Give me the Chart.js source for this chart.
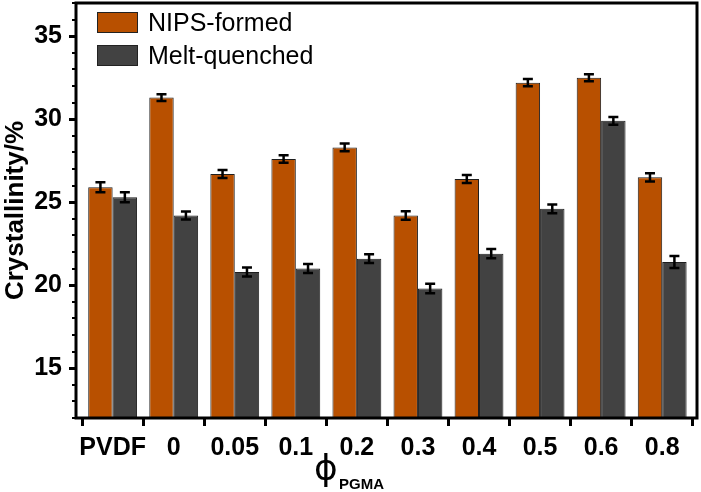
<!DOCTYPE html>
<html>
<head>
<meta charset="utf-8">
<script src="https://cdn.jsdelivr.net/npm/chart.js@4.4.1/dist/chart.umd.min.js"></script>
<style>
html, body { margin: 0; padding: 0; background: #fff; }
#wrap { width: 701px; height: 492px; }
</style>
</head>
<body>
<div id="wrap"><canvas id="crystChart" width="701" height="492"></canvas></div>
<script>
const categories = ['PVDF', '0', '0.05', '0.1', '0.2', '0.3', '0.4', '0.5', '0.6', '0.8'];
const nipsValues = [25.9, 31.3, 26.7, 27.6, 28.3, 24.2, 26.4, 32.2, 32.5, 26.5];
const nipsErrors = [0.3, 0.2, 0.24, 0.23, 0.23, 0.26, 0.24, 0.22, 0.21, 0.25];
const meltValues = [25.3, 24.2, 20.8, 21.0, 21.6, 19.8, 21.9, 24.6, 29.9, 21.4];
const meltErrors = [0.3, 0.24, 0.27, 0.27, 0.27, 0.28, 0.28, 0.26, 0.23, 0.36];
const yTicks = [15, 20, 25, 30, 35];

const FONT = '"Liberation Sans", Arial, sans-serif';

// error bars drawn on top of each bar
const errorBars = {
    id: 'errorBars',
    afterDatasetsDraw(chart) {
        const ctx = chart.ctx;
        const yScale = chart.scales.y;
        ctx.save();
        ctx.strokeStyle = '#000';
        ctx.lineWidth = 2.5;
        chart.data.datasets.forEach((ds, i) => {
            const meta = chart.getDatasetMeta(i);
            meta.data.forEach((bar, j) => {
                const v = ds.data[j].y;
                const e = ds.errors[j];
                const top = yScale.getPixelForValue(v + e);
                const bot = yScale.getPixelForValue(v - e);
                ctx.beginPath();
                ctx.moveTo(bar.x, top);
                ctx.lineTo(bar.x, bot);
                ctx.moveTo(bar.x - 5, top);
                ctx.lineTo(bar.x + 5, top);
                ctx.moveTo(bar.x - 5, bot);
                ctx.lineTo(bar.x + 5, bot);
                ctx.stroke();
            });
        });
        ctx.restore();
    }
};

// frame, minor ticks, legend and x title
const decorations = {
    id: 'decorations',
    afterDraw(chart) {
        const { ctx, chartArea } = chart;
        const yScale = chart.scales.y;
        ctx.save();

        // minor ticks on y
        ctx.strokeStyle = '#000';
        ctx.lineWidth = 2;
        for (let v = Math.ceil(yScale.min); v <= yScale.max; v++) {
            if (v % 5 === 0) continue;
            const y = Math.round(yScale.getPixelForValue(v));
            ctx.beginPath();
            ctx.moveTo(chartArea.left - 4, y);
            ctx.lineTo(chartArea.left, y);
            ctx.stroke();
        }

        // box around plot
        ctx.lineWidth = 3;
        ctx.strokeRect(chartArea.left, chartArea.top, chartArea.right - chartArea.left, chartArea.bottom - chartArea.top);

        // legend
        ctx.font = '25px ' + FONT;
        ctx.textBaseline = 'middle';
        ctx.textAlign = 'left';
        chart.data.datasets.forEach((ds, i) => {
            const x = chartArea.left + 21;
            const y = chartArea.top + 9 + i * 33;
            ctx.fillStyle = ds.backgroundColor;
            ctx.fillRect(x, y, 41, 21);
            ctx.strokeStyle = '#222';
            ctx.lineWidth = 1;
            ctx.strokeRect(x + 0.5, y + 0.5, 40, 20);
            ctx.fillStyle = '#000';
            ctx.fillText(ds.label, x + 51, y + 12);
        });

        // x axis title: phi with subscript
        ctx.textBaseline = 'alphabetic';
        ctx.font = '36px "DejaVu Sans", sans-serif';
        ctx.fillText('\u03D5', 314, 480);
        ctx.font = 'bold 15px ' + FONT;
        ctx.fillText('PGMA', 339, 489);

        ctx.restore();
    }
};

const ctx = document.getElementById('crystChart').getContext('2d');
new Chart(ctx, {
    type: 'bar',
    data: {
        datasets: [
            {
                label: 'NIPS-formed',
                data: nipsValues.map((v, i) => ({ x: i, y: v })),
                errors: nipsErrors,
                backgroundColor: '#B85000',
                borderColor: '#1e1e1e',
                borderWidth: 1
            },
            {
                label: 'Melt-quenched',
                data: meltValues.map((v, i) => ({ x: i, y: v })),
                errors: meltErrors,
                backgroundColor: '#424242',
                borderColor: '#1e1e1e',
                borderWidth: 1
            }
        ]
    },
    options: {
        responsive: false,
        animation: false,
        devicePixelRatio: 1,
        categoryPercentage: 0.8,
        barPercentage: 1.0,
        layout: { padding: { left: 0, right: 4, top: 3, bottom: 0 } },
        plugins: {
            legend: { display: false },
            tooltip: { enabled: false }
        },
        scales: {
            x: {
                type: 'linear',
                offset: false,
                min: -0.6,
                max: 9.57,
                afterBuildTicks: scale => {
                    scale.ticks = categories.map((c, i) => ({ value: i }));
                },
                afterFit: scale => {
                    scale.height = 74;
                    scale.paddingLeft = 0;
                    scale.paddingRight = 0;
                },
                ticks: {
                    color: '#000',
                    font: { family: FONT, size: 25, weight: 'bold' },
                    padding: 7,
                    maxRotation: 0,
                    autoSkip: false,
                    callback: v => categories[v]
                },
                grid: {
                    drawOnChartArea: false,
                    drawTicks: true,
                    tickLength: 8,
                    tickWidth: 3,
                    tickColor: '#000'
                },
                border: { display: false }
            },
            y: {
                min: 12,
                max: 37,
                afterBuildTicks: scale => {
                    scale.ticks = yTicks.map(v => ({ value: v }));
                },
                afterFit: scale => {
                    scale.width = 76;
                    scale.paddingTop = 0;
                    scale.paddingBottom = 0;
                },
                ticks: {
                    color: '#000',
                    font: { family: FONT, size: 25, weight: 'bold' },
                    padding: 7
                },
                grid: {
                    drawOnChartArea: false,
                    drawTicks: true,
                    tickLength: 7,
                    tickWidth: 3,
                    tickColor: '#000'
                },
                border: { display: false },
                title: {
                    display: true,
                    text: 'Crystallinity/%',
                    color: '#000',
                    font: { family: FONT, size: 26, weight: 'bold' },
                    padding: { top: 0, bottom: 0 }
                }
            }
        }
    },
    plugins: [errorBars, decorations]
});
</script>
</body>
</html>
